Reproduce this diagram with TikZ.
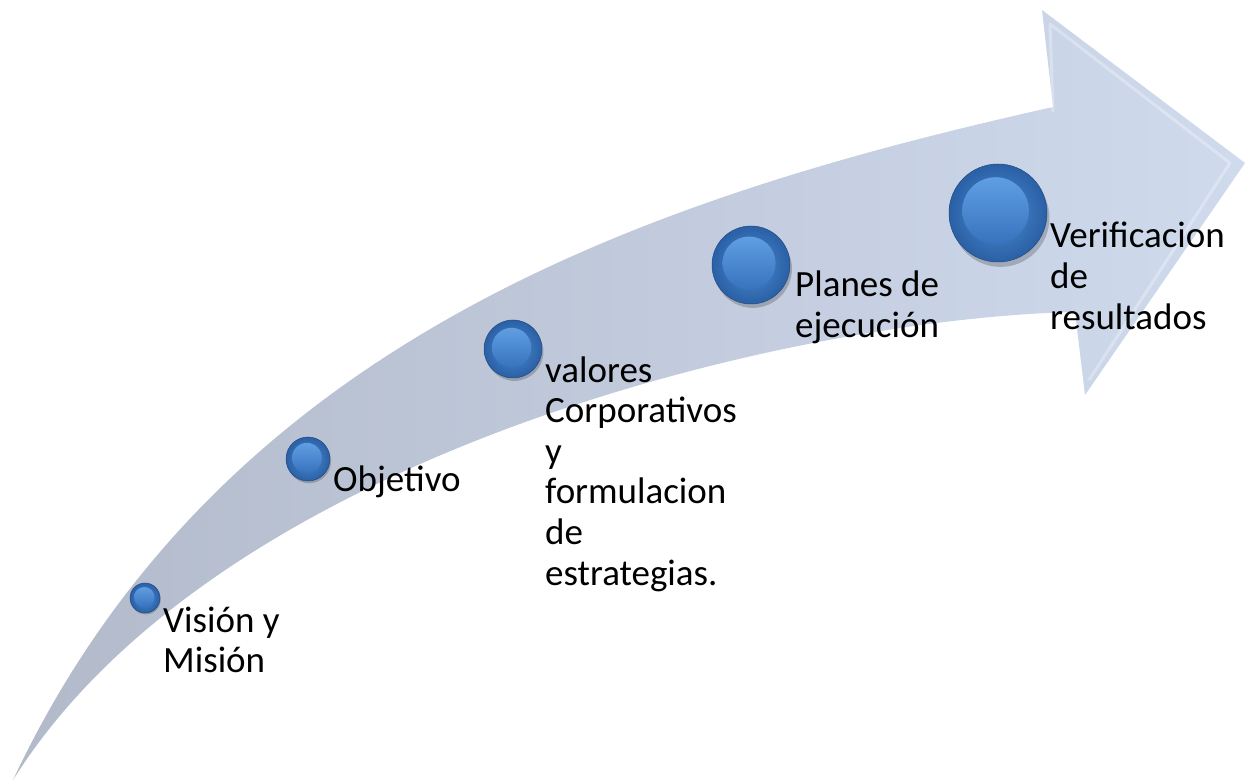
\documentclass[tikz,border=0pt]{standalone}
\usepackage{fontspec}
\setmainfont{Carlito}
\definecolor{arrL}{RGB}{178,186,202}
\definecolor{arrM}{RGB}{194,203,221}
\definecolor{arrR}{RGB}{207,218,237}
\definecolor{btnOut}{RGB}{42,96,165}
\definecolor{btnIn}{RGB}{78,140,212}
\definecolor{capTop}{RGB}{96,158,226}
\definecolor{capBot}{RGB}{55,115,190}
\definecolor{btnEdge}{RGB}{34,74,128}
\tikzset{
  lbl/.style={anchor=base west, align=left, inner sep=0pt, text=black,
    font=\fontsize{37}{40.6}\selectfont},
  btn/.style={circle, inner sep=0pt, draw=btnEdge, line width=0.5pt}
}
\begin{document}
\begin{tikzpicture}[x=1pt,y=-1pt]
\useasboundingbox (0,0) rectangle (1256,783);
% arrow body
\shade[left color=arrL, middle color=arrM, right color=arrR]
  (13,780) .. controls (220,340) and (650,197) .. (1053,107)
  -- (1042,10) -- (1245,163) -- (1085,395) -- (1075,312)
  .. controls (800,318) and (220,450) .. (13,780) -- cycle;
% soft inner bevel on arrow head
\draw[white, opacity=0.3, line width=3pt, line join=round]
  (1053,112) -- (1050,24) -- (1230,163) -- (1089,380);
% buttons
\foreach \n/\x/\y/\r in {c1/145/598/15, c2/308/459/22, c3/513/349/29, c4/751/265/39, c5/998/213/49}{
  \fill[black, opacity=0.2] (\x+0.05*\r,\y+0.1*\r) circle (\r);
  \shade[inner color=btnIn, outer color=btnOut] (\x,\y) circle (\r);
  \shade[top color=capTop, bottom color=capBot] (\x-0.05*\r,\y-0.05*\r) circle (0.68*\r);
  \node[btn, minimum size={2*\r*1pt}] (\n) at (\x,\y) {};
}
% labels (anchor = baseline of the last line)
\node[lbl] (t1) at (163,672.6) {Visión y\\Misión};
\node[lbl] (t2) at (333,491) {Objetivo};
\node[lbl] (t3) at (545,585) {valores\\Corporativos\\y\\formulacion\\de\\estrategias.};
\node[lbl] (t4) at (795,337.6) {Planes de\\ejecución};
\node[lbl] (t5) at (1050,329.2) {Verificacion\\de\\resultados};
\end{tikzpicture}
\end{document}
